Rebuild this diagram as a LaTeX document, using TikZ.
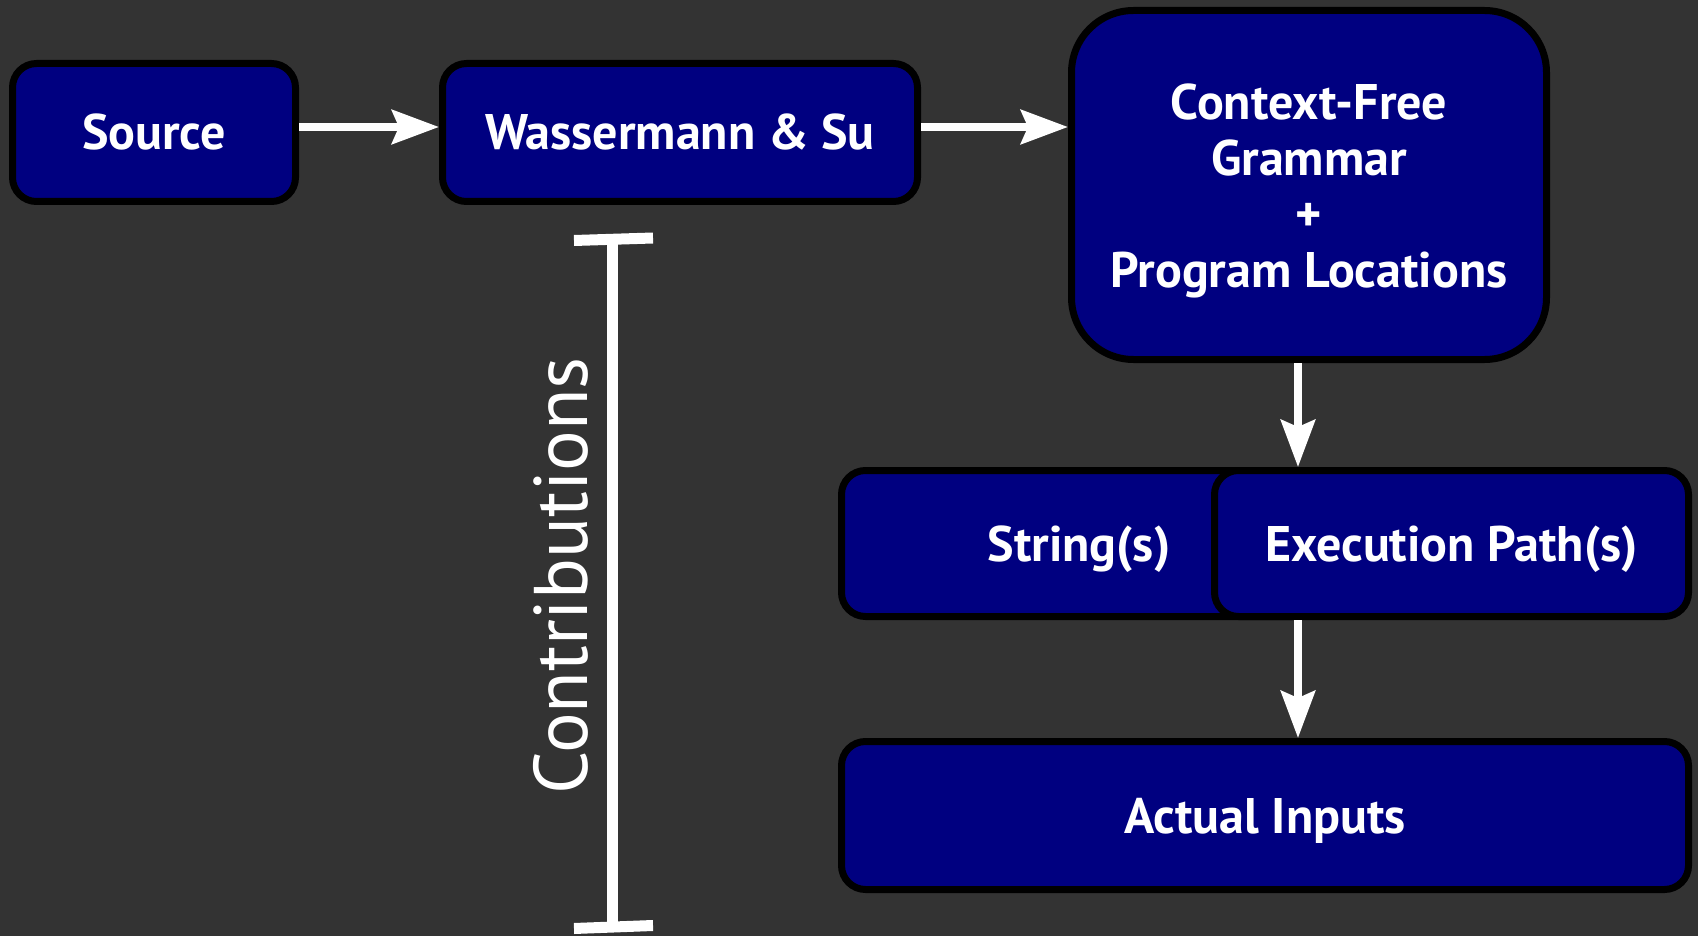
\documentclass[tikz,border=0pt]{standalone}
\usepackage{fontspec}
\setmainfont{PT Sans}
\usetikzlibrary{arrows.meta}
\definecolor{bg}{HTML}{333333}
\definecolor{boxblue}{HTML}{000080}
\begin{document}
\begin{tikzpicture}[x=1pt,y=-1pt,
  stage/.style={draw=black, line width=7pt, fill=boxblue, text=white,
    rounded corners=24pt, inner sep=0pt, align=center,
    font=\fontsize{50}{56}\selectfont\bfseries},
  oneline/.style={stage, text height=35pt, text depth=0pt},
  flow/.style={draw=white, line width=8pt,
    -{Stealth[length=47pt,width=34pt,inset=7pt]}},
  bracketline/.style={draw=white, line width=11pt}]
% canvas
\fill[bg] (0,0) rectangle (1698,936);
\useasboundingbox (0,0) rectangle (1698,936);

% top row
\node[oneline, minimum width=283pt, minimum height=138pt] (src) at (154,132.5) {Source};
\node[oneline, minimum width=475pt, minimum height=138pt] (ws) at (680,132.5) {Wassermann \& Su};
\node[stage, minimum width=475pt, minimum height=349pt, rounded corners=62pt] (cfg) at (1309,185)
  {\rule{0pt}{47pt}Context-Free\\Grammar\\+\\Program Locations};

% outputs
\node[oneline, minimum width=475pt, minimum height=146pt] (str) at (1079,543.5) {String(s)};
\node[oneline, minimum width=474pt, minimum height=146pt] (ex) at (1451.5,543.5) {Execution Path(s)};
\node[oneline, minimum width=847pt, minimum height=148pt] (act) at (1265,815.5) {Actual Inputs};

% connectors
\draw[flow] ([yshift=5.5pt]src.east) -- ([yshift=5.5pt]ws.west);
\draw[flow] ([yshift=5.5pt]ws.east) -- ([yshift=5.5pt]ws.east -| cfg.west);
\coordinate (down1) at ([xshift=-11pt]cfg.south);
\draw[flow] (down1) -- (down1 |- ex.north);
\draw[flow] (down1 |- ex.south) -- (down1 |- act.north);

% contributions bracket
\draw[bracketline] (612,240) -- (612,927);
\draw[bracketline] (574,240.5) -- (653,238);
\draw[bracketline] (574,928.5) -- (653,925.5);
\node[rotate=90, anchor=base, text=white, inner sep=0pt,
  font=\fontsize{76}{80}\selectfont] (contrib) at (587,576) {Contributions};
\end{tikzpicture}
\end{document}
